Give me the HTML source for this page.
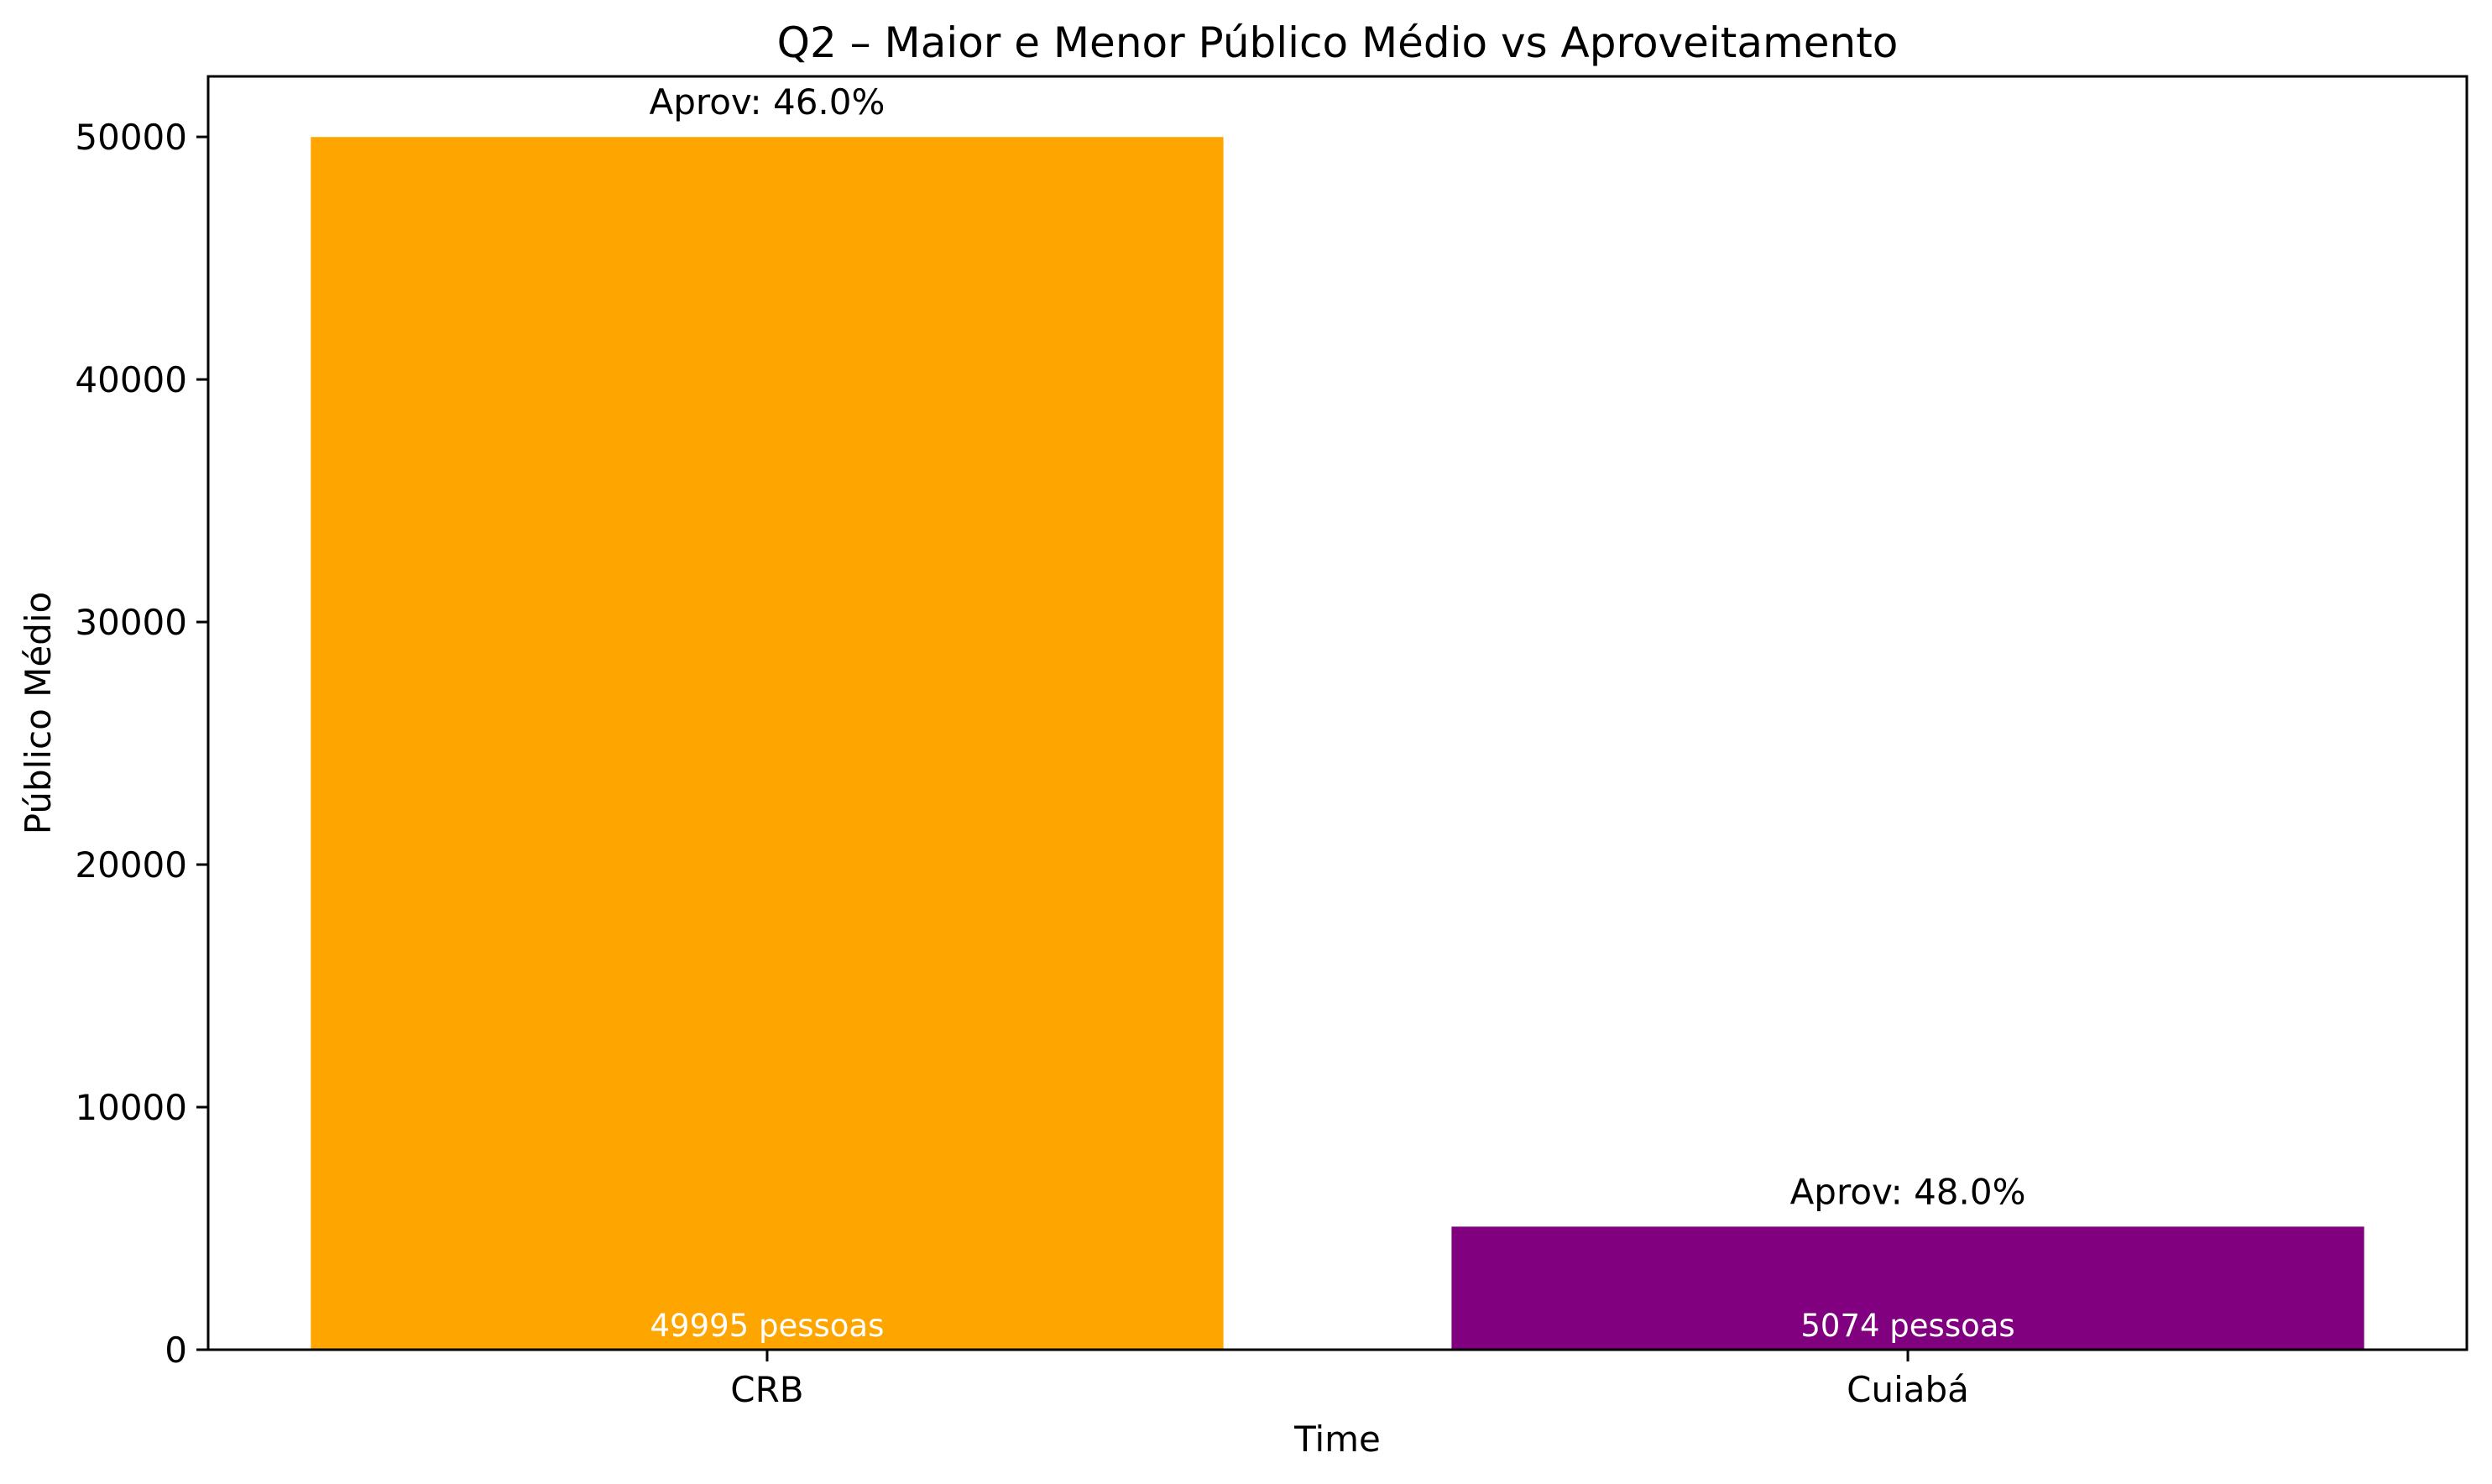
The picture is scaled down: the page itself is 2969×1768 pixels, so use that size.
<!DOCTYPE html>
<html><head><meta charset="utf-8"><style>
body{margin:0;background:#fff}
svg{display:block;font-family:"DejaVu Sans","Liberation Sans",sans-serif}
</style></head><body>
<svg id="chart" width="2969" height="1768" viewBox="0 0 2969 1768">
<rect width="2969" height="1768" fill="#fff"/>
<g id="bars"></g>
<g id="axes"></g>
</svg>
<script>
const categories = ["CRB", "Cuiabá"];
const publico = [49995, 5074];
const aproveitamento = [46.0, 48.0];
const barColors = ["#FFA500", "#800080"];
const yTicks = [0, 10000, 20000, 30000, 40000, 50000];

const L = 248, R = 2939, T = 91, B = 1608;
const yMax = Math.max(...publico) * 1.05;
const xMin = -0.49, xMax = categories.length - 1 + 0.49;
const sx = v => L + (v - xMin) / (xMax - xMin) * (R - L);
const sy = v => B - v / yMax * (B - T);
const NS = "http://www.w3.org/2000/svg";
function mk(tag, attrs, parent, text) {
  const e = document.createElementNS(NS, tag);
  for (const k in attrs) e.setAttribute(k, attrs[k]);
  if (text !== undefined) e.textContent = text;
  parent.appendChild(e);
  return e;
}
const gb = document.getElementById("bars");
const ga = document.getElementById("axes");
const unit = sx(1) - sx(0);
categories.forEach((c, i) => {
  const x0 = sx(i - 0.4), w = 0.8 * unit, yt = sy(publico[i]);
  const r = mk("rect", {x: x0, y: yt, width: w, height: B - yt, fill: barColors[i]}, gb);
  
  
  const a = mk("text", {x: sx(i), y: yt - 27, "text-anchor": "middle", "font-size": 42, fill: "#000"}, gb, "Aprov: " + aproveitamento[i].toFixed(1) + "%");
  
  
  const p = mk("text", {x: sx(i), y: B - 16, "text-anchor": "middle", "font-size": 37, fill: "#fff"}, gb, publico[i] + " pessoas");
  
  
  const tk = mk("line", {x1: sx(i), x2: sx(i), y1: B, y2: B + 14, stroke: "#000", "stroke-width": 3}, ga);
  
  
  const tl = mk("text", {x: sx(i), y: 1670, "text-anchor": "middle", "font-size": 42}, ga, c);
  
  
});
yTicks.forEach(v => {
  const tk = mk("line", {x1: L - 14, x2: L, y1: sy(v), y2: sy(v), stroke: "#000", "stroke-width": 3}, ga);
  
  
  const tl = mk("text", {x: L - 25, y: sy(v) + 15, "text-anchor": "end", "font-size": 42}, ga, String(v));
  
  
});
const fr = mk("rect", {x: L, y: T, width: R - L, height: B - T, fill: "none", stroke: "#000", "stroke-width": 3}, ga);


const ti = mk("text", {x: (L + R) / 2, y: 68, "text-anchor": "middle", "font-size": 50}, ga, "Q2 – Maior e Menor Público Médio vs Aproveitamento");


const xt = mk("text", {x: (L + R) / 2, y: 1729, "text-anchor": "middle", "font-size": 42}, ga, "Time");


const yt = mk("text", {x: 0, y: 0, "text-anchor": "middle", "font-size": 42, transform: "translate(60," + ((T + B) / 2) + ") rotate(-90)"}, ga, "Público Médio");


</script>
</body></html>
